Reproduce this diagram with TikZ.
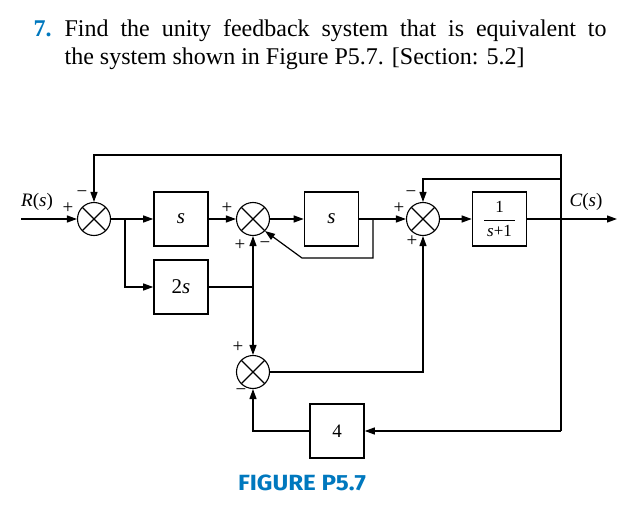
\documentclass[tikz,border=0pt]{standalone}
\usepackage{fontspec}
\setmainfont{Liberation Serif}
\newfontfamily\figfont{Fira Sans}
\usetikzlibrary{arrows.meta}
\definecolor{probblue}{RGB}{0,120,190}
\begin{document}
\begin{tikzpicture}[x=1pt,y=-1pt,
  line width=1.2pt,
  sj/.style={circle, draw, line width=1.1pt, minimum size=33pt, inner sep=0pt,
    path picture={\draw[line width=1.1pt] (path picture bounding box.north west) -- (path picture bounding box.south east)
      (path picture bounding box.north east) -- (path picture bounding box.south west);}},
  blk/.style={draw, line width=1.6pt, minimum width=54pt, minimum height=54pt, inner sep=0pt, font=\fontsize{21}{24}\selectfont},
  arr/.style={-{Triangle[length=10pt,width=7pt]}},
  sgn/.style={font=\fontsize{19}{21}\selectfont, inner sep=0pt},
  lbl/.style={font=\fontsize{19}{22}\selectfont, inner sep=0pt},
  ttl/.style={font=\fontsize{24}{28}\selectfont, inner sep=0pt, anchor=base west}]
\useasboundingbox (0,0) rectangle (638,522);
% title
\node[ttl, text=probblue] (num) at (33,36) {\bfseries 7.};
\node[ttl] (l1) at (64,36) {\makebox[542pt][s]{Find the unity feedback system that is equivalent to}};
\node[ttl] (l2) at (64,64) {the system shown in Figure P5.7. [Section: 5.2]};
% junctions
\node[sj] (s1) at (94,219) {};
\node[sj] (s2) at (253,219) {};
\node[sj] (s3) at (423,219) {};
\node[sj] (s4) at (253,372) {};
% blocks
\node[blk] (b1) at (181,219) {\textit{s}};
\node[blk] (b2) at (181,287) {2\textit{s}};
\node[blk] (b3) at (331.5,219) {\textit{s}};
\node[blk, font=\fontsize{17}{20}\selectfont] (b4) at (499.5,219) {$\displaystyle\frac{\mbox{1}}{\mbox{\,\textit{s}+1\,}}$};
\node[blk, font=\fontsize{19}{22}\selectfont] (b5) at (337,431) {4};
% coordinates
\coordinate (rin) at (21,219);
\coordinate (cout) at (617,219);
\coordinate (po) at (561,219);
\coordinate (top) at (561,155);
\coordinate (fb2) at (561,179);
\coordinate (bot) at (561,431);
\coordinate (j1) at (125,219);
\coordinate (j2) at (373,219);
\coordinate (k) at (302,258);
% connectors
\draw[arr] (rin) -- (s1);
\draw[arr] (po) -- (top) -| (s1.north);
\draw[arr] (fb2) -| (s3.north);
\draw (po) -- (bot);
\draw[arr] (bot) -- (b5.east);
\draw[arr] (b5.west) -| (s4.south);
\draw[arr] (s1) -- (b1);
\draw[arr] (j1) |- (b2.west);
\draw[arr] (b1) -- (s2);
\draw[arr] (s2) -- (b3);
\draw[arr] (b3) -- (s3);
\draw[arr] (j2) |- (k) -- (s2.-45);
\draw[arr] (s3) -- (b4);
\draw[arr] (b4) -- (cout);
\draw (b2.east) -- (b2.east -| s2.south) coordinate (j3);
\draw[arr] (j3) -- (s2.south);
\draw[arr] (j3) -- (s4.north);
\draw[arr] (s4.east) -| (s3.south);
% signs
\node[sgn] (p1a) at (68,208) {+};
\node[sgn] (m1a) at (82,194) {−};
\node[sgn] (p2a) at (227,208) {+};
\node[sgn] (p2b) at (240,245) {+};
\node[sgn] (m2a) at (265,245) {−};
\node[sgn] (m3a) at (411,194) {−};
\node[sgn] (p3a) at (399,208) {+};
\node[sgn] (p3b) at (412,241) {+};
\node[sgn] (p4a) at (238,347) {+};
\node[sgn] (m4a) at (241,392) {−};
% labels
\node[lbl] (rl) at (37,202) {\textit{R}(\textit{s})};
\node[lbl] (cl) at (586,202) {\textit{C}(\textit{s})};
\node[inner sep=0pt, text=probblue, font=\figfont\bfseries\fontsize{22}{26}\selectfont] (fig) at (302,483) {\scalebox{1.1}[1]{FIGURE P5.7}};
\end{tikzpicture}
\end{document}
